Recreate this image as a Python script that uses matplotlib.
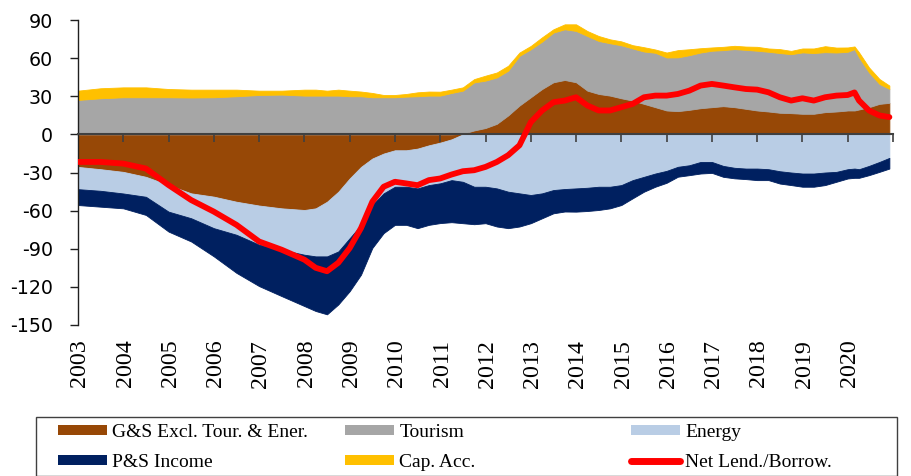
import numpy as np
import matplotlib
matplotlib.use("Agg")
import matplotlib.pyplot as plt
from matplotlib.patches import Rectangle
from matplotlib.lines import Line2D
from matplotlib.patches import Patch

plt.rcParams['axes.unicode_minus'] = False

# ---- data (fractional year) ----
dates = [2003.0, 2003.5, 2004.0, 2004.5, 2005.0, 2005.5, 2006.0, 2006.5, 2007.0, 2007.5,
         2008.0, 2008.25, 2008.5, 2008.75, 2009.0, 2009.25, 2009.5, 2009.75, 2010.0, 2010.25,
         2010.5, 2010.75, 2011.0, 2011.25, 2011.5, 2011.75, 2012.0, 2012.25, 2012.5, 2012.75,
         2013.0, 2013.25, 2013.5, 2013.75, 2014.0, 2014.25, 2014.5, 2014.75, 2015.0, 2015.25,
         2015.5, 2015.75, 2016.0, 2016.25, 2016.5, 2016.75, 2017.0, 2017.25, 2017.5, 2017.75,
         2018.0, 2018.25, 2018.5, 2018.75, 2019.0, 2019.25, 2019.5, 2019.75, 2020.0, 2020.15,
         2020.25, 2020.47, 2020.7, 2020.92]

gs_excl = [-25.6, -27.4, -29.5, -33.4, -39.9, -46.4, -49.0, -53.0, -56.0, -58.2,
           -59.5, -58.2, -53.0, -45.1, -34.7, -25.6, -19.0, -15.1, -12.5, -12.5,
           -11.2, -8.6, -6.5, -3.9, 0.5, 3.1, 5.0, 8.3, 14.9, 22.7,
           29.2, 35.7, 41.0, 42.8, 41.0, 34.4, 31.8, 30.5, 28.4, 26.6,
           24.0, 21.4, 18.8, 18.3, 19.3, 20.6, 21.4, 22.2, 21.4, 20.1,
           18.8, 18.0, 17.0, 16.7, 16.2, 16.2, 17.5, 18.0, 18.8, 18.8,
           19.6, 21.4, 24.0, 24.8]

tourism = [27.1, 28.4, 29.2, 29.2, 29.2, 29.0, 29.2, 30.0, 31.0, 31.3,
           30.5, 30.5, 30.5, 30.5, 30.0, 30.0, 29.2, 29.2, 29.2, 29.7,
           30.0, 30.5, 30.5, 32.6, 33.9, 37.8, 37.3, 36.5, 35.2, 39.1,
           37.8, 37.3, 39.1, 39.9, 40.4, 43.0, 41.7, 41.2, 41.7, 41.0,
           41.2, 42.8, 41.7, 42.3, 43.0, 43.8, 44.4, 44.1, 45.7, 46.4,
           47.0, 47.0, 47.0, 46.4, 48.3, 47.8, 47.2, 46.4, 46.2, 48.3,
           41.0, 27.4, 15.7, 11.0]

energy = [-17.5, -17.0, -17.0, -15.7, -20.9, -19.6, -24.8, -26.0, -30.8, -32.6,
          -35.2, -37.8, -43.0, -47.0, -47.0, -45.7, -36.5, -31.3, -28.7, -28.7,
          -31.3, -31.3, -32.0, -32.1, -37.3, -41.2, -41.2, -42.5, -45.1, -46.4,
          -47.7, -46.4, -43.8, -43.0, -42.5, -42.0, -41.2, -41.2, -39.9, -36.0,
          -33.4, -30.8, -28.7, -25.5, -24.3, -21.7, -21.7, -24.8, -26.3, -26.9,
          -26.9, -27.4, -29.0, -30.0, -30.8, -30.8, -30.0, -29.5, -27.4, -26.9,
          -27.4, -24.8, -21.7, -18.5]

ps_income = [-12.5, -12.5, -11.7, -14.3, -15.7, -18.3, -22.2, -30.0, -32.6, -36.5,
             -40.4, -43.0, -45.6, -41.7, -41.7, -39.1, -33.9, -31.3, -30.0, -30.0,
             -31.3, -31.3, -31.3, -33.1, -32.6, -29.5, -28.7, -30.0, -28.7, -26.1,
             -22.2, -19.6, -18.3, -17.7, -18.3, -18.3, -18.3, -17.0, -15.7, -14.3,
             -11.7, -10.4, -9.4, -7.8, -7.8, -9.1, -8.6, -8.6, -8.3, -8.3,
             -9.1, -8.6, -9.7, -9.9, -10.4, -10.4, -9.9, -7.8, -7.3, -7.3,
             -6.8, -7.3, -7.8, -8.4]

cap_acc = [7.3, 7.9, 7.8, 7.8, 6.5, 6.2, 6.0, 5.2, 3.4, 3.1,
           4.7, 4.7, 3.9, 4.7, 4.4, 3.7, 3.4, 1.8, 1.8, 2.1,
           3.1, 3.2, 3.1, 2.6, 2.6, 2.6, 3.9, 3.9, 3.9, 2.6,
           2.6, 3.4, 2.6, 3.9, 5.2, 3.9, 3.9, 3.1, 3.1, 2.6,
           3.4, 2.6, 3.9, 5.7, 4.7, 3.4, 2.6, 2.6, 2.6, 2.6,
           3.1, 2.6, 3.1, 2.6, 3.1, 3.6, 4.7, 3.9, 3.4, 2.1,
           3.9, 3.9, 3.9, 2.6]

net_lending = [-21.7, -21.7, -23.0, -26.9, -39.9, -51.7, -60.8, -71.2, -84.3, -90.8,
               -98.6, -105.0, -107.7, -101.0, -89.5, -73.8, -53.0, -41.2, -37.3, -38.6,
               -40.0, -36.0, -34.7, -31.6, -29.0, -28.2, -25.6, -21.7, -16.4, -8.6,
               9.6, 18.8, 25.3, 26.6, 29.2, 22.7, 18.8, 18.8, 21.4, 24.0,
               29.2, 30.5, 30.5, 31.8, 34.4, 38.4, 39.7, 38.4, 37.0, 35.7,
               35.2, 33.1, 29.2, 26.6, 28.4, 26.6, 29.2, 30.5, 31.0, 33.0,
               26.6, 18.8, 14.9, 13.6]

years = list(range(2003, 2021))
yticks = [90, 60, 30, 0, -30, -60, -90, -120, -150]

labels = ["G&S Excl. Tour. & Ener.", "Tourism", "Energy", "P&S Income", "Cap. Acc.", "Net Lend./Borrow."]
colors = ["#974806", "#A6A6A6", "#B9CDE5", "#002060", "#FFC000", "#FF0000"]

# ---- figure ----
W, H = 912, 476
fig = plt.figure(figsize=(W / 100, H / 100), dpi=100)
ax = fig.add_axes([78 / W, 1 - 325 / H, (893 - 78) / W, (325 - 20) / H])

x = np.array(dates)
gs = np.array(gs_excl)
tr = np.array(tourism)
en = np.array(energy)
pi = np.array(ps_income)
ca = np.array(cap_acc)

pos_base = np.maximum(gs, 0)
neg_base = np.minimum(gs, 0)

kw = dict(linewidth=0.6)
ax.fill_between(x, 0, gs, color=colors[0], **kw)
ax.fill_between(x, pos_base, pos_base + tr, color=colors[1], **kw)
ax.fill_between(x, pos_base + tr, pos_base + tr + ca, color=colors[4], **kw)
ax.fill_between(x, neg_base, neg_base + en, color=colors[2], **kw)
ax.fill_between(x, neg_base + en, neg_base + en + pi, color=colors[3], **kw)
ax.plot(x, net_lending, color=colors[5], linewidth=4.2, solid_capstyle='round',
        solid_joinstyle='round', zorder=5)

ax.set_xlim(2003, 2021)
ax.set_ylim(-150, 90)

for s in ['top', 'right']:
    ax.spines[s].set_visible(False)
ax.spines['bottom'].set_position(('data', 0))
ax.spines['bottom'].set_color('#404040')
ax.spines['bottom'].set_linewidth(1.5)
ax.spines['bottom'].set_zorder(4)
ax.spines['left'].set_color('#202020')
ax.spines['left'].set_linewidth(1.0)

ax.set_yticks(yticks)
ax.set_yticklabels([str(v) for v in yticks], fontfamily='DejaVu Sans', fontsize=13.7)
ax.tick_params(axis='y', direction='out', length=6, width=1, color='#202020', pad=12)

ax.set_xticks(list(range(2004, 2022)))
ax.set_xticklabels([])
ax.tick_params(axis='x', direction='out', length=6, width=1.2, color='#404040')

tr_x = ax.get_xaxis_transform()
for yr in years:
    ax.text(yr + 0.04, -0.048, str(yr), transform=tr_x, rotation=90, ha='center', va='top',
            fontfamily='Liberation Serif', fontsize=17.3)

# ---- legend ----
fig.add_artist(Rectangle((36 / W, 0), (897 - 36) / W, 1 - 417 / H, transform=fig.transFigure,
                         fill=False, edgecolor='#404040', linewidth=1.0))

handles = [Patch(facecolor=colors[0]), Patch(facecolor=colors[1]), Patch(facecolor=colors[2]),
           Patch(facecolor=colors[3]), Patch(facecolor=colors[4]),
           Line2D([], [], color=colors[5], linewidth=5, solid_capstyle='round')]
col_x = [58, 345, 631]
for c in range(3):
    hs = [handles[c], handles[c + 3]]
    ls = [labels[c], labels[c + 3]]
    fig.legend(hs, ls, loc='upper left', bbox_to_anchor=(col_x[c] / W, 1 - 424 / H),
               frameon=False, borderpad=0, borderaxespad=0, handlelength=2.5,
               handleheight=0.42, handletextpad=0.3, labelspacing=0.68,
               prop={'family': 'Liberation Serif', 'size': 14.0})

fig.savefig("out.png", dpi=100)
